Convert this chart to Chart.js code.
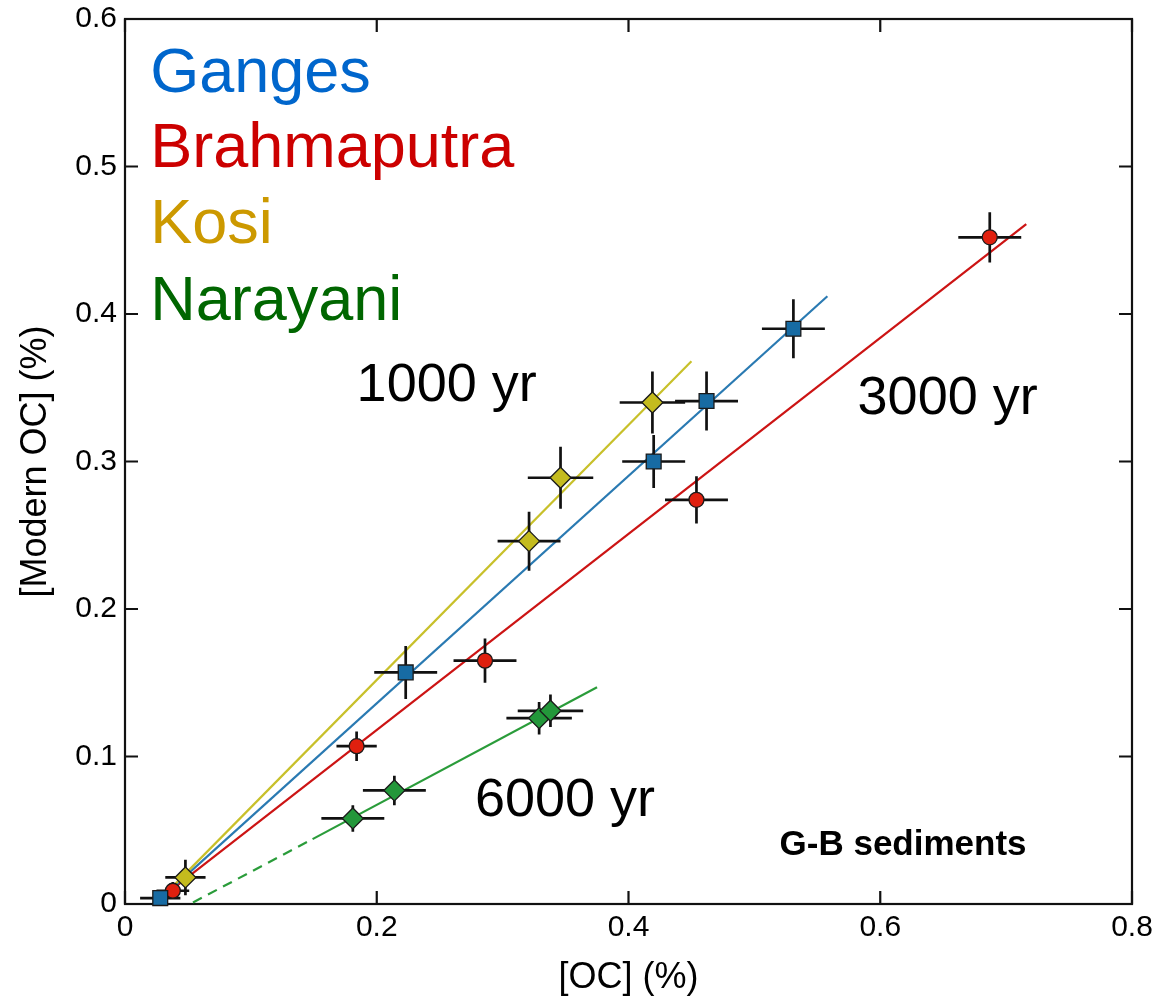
<!DOCTYPE html>
<html>
<head>
<meta charset="utf-8">
<script src="https://cdn.jsdelivr.net/npm/chart.js@4.4.0/dist/chart.umd.min.js"></script>
<style>
  html, body { margin: 0; padding: 0; background: #fff; }
</style>
</head>
<body>
<canvas id="ocChart" width="1173" height="1000"></canvas>
<script>
// Bulk OC vs modern (14C-derived) OC for Ganges-Brahmaputra river sediments

const gangesX = [0.028, 0.223, 0.420, 0.462, 0.531];
const gangesY = [0.004, 0.157, 0.300, 0.341, 0.390];
const gangesErrX = [0.016, 0.025, 0.025, 0.025, 0.025];
const gangesErrY = [0.003, 0.018, 0.018, 0.020, 0.020];

const brahmaX = [0.038, 0.184, 0.286, 0.454, 0.687];
const brahmaY = [0.009, 0.107, 0.165, 0.274, 0.452];
const brahmaErrX = [0.013, 0.016, 0.025, 0.025, 0.025];
const brahmaErrY = [0.006, 0.010, 0.015, 0.016, 0.017];

const kosiX = [0.048, 0.321, 0.346, 0.419];
const kosiY = [0.018, 0.246, 0.289, 0.340];
const kosiErrX = [0.016, 0.025, 0.026, 0.026];
const kosiErrY = [0.012, 0.020, 0.021, 0.021];

const narayaniX = [0.181, 0.214, 0.329, 0.338];
const narayaniY = [0.058, 0.077, 0.126, 0.131];
const narayaniErrX = [0.025, 0.025, 0.026, 0.026];
const narayaniErrY = [0.009, 0.010, 0.011, 0.011];

// age lines (endpoints)
const line1000X = [0.030, 0.450];
const line1000Y = [0.005, 0.368];
const gangesFitX = [0.030, 0.558];
const gangesFitY = [0.005, 0.412];
const line3000X = [0.030, 0.716];
const line3000Y = [0.005, 0.461];
const line6000DashX = [0.054, 0.149];
const line6000DashY = [0.001, 0.044];
const line6000X = [0.149, 0.375];
const line6000Y = [0.044, 0.147];

const xTicks = [0, 0.2, 0.4, 0.6, 0.8];
const yTicks = [0, 0.1, 0.2, 0.3, 0.4, 0.5, 0.6];

const FONT = "'Liberation Sans', Arial, Helvetica, sans-serif";

function pts(xs, ys) {
  return xs.map((x, i) => ({ x: x, y: ys[i] }));
}

function markerSet(label, xs, ys, ex, ey, style, radius, fill) {
  return {
    label: label,
    data: pts(xs, ys),
    errX: ex,
    errY: ey,
    pointStyle: style,
    pointRadius: radius,
    backgroundColor: fill,
    borderColor: '#1a1a1a',
    borderWidth: 1.3,
    showLine: false,
    clip: false,
    order: 0
  };
}

function lineSet(xs, ys, color, dash) {
  return {
    data: pts(xs, ys),
    showLine: true,
    borderColor: color,
    borderWidth: 2.2,
    borderDash: dash || [],
    pointRadius: 0,
    fill: false,
    order: 5
  };
}

// text written inside the plot, anchored in data units
const notes = [
  { text: 'Ganges', x: 0.020, y: 0.5505, color: '#0066cc', font: '63px ' + FONT },
  { text: 'Brahmaputra', x: 0.020, y: 0.4997, color: '#cc0000', font: '63px ' + FONT },
  { text: 'Kosi', x: 0.020, y: 0.448, color: '#cc9900', font: '63px ' + FONT },
  { text: 'Narayani', x: 0.020, y: 0.396, color: '#006600', font: '63px ' + FONT },
  { text: '1000 yr', x: 0.184, y: 0.341, color: '#000', font: '54px ' + FONT },
  { text: '3000 yr', x: 0.582, y: 0.332, color: '#000', font: '54px ' + FONT },
  { text: '6000 yr', x: 0.278, y: 0.060, color: '#000', font: '54px ' + FONT },
  { text: 'G-B sediments', x: 0.520, y: 0.0333, color: '#000', font: 'bold 35px ' + FONT }
];

// box around the plot with inward ticks on all four sides
const framePlugin = {
  id: 'frame',
  beforeDatasetsDraw(chart) {
    const { ctx, chartArea: a, scales } = chart;
    const len = 13;
    ctx.save();
    ctx.strokeStyle = '#111';
    ctx.lineWidth = 2.2;
    ctx.strokeRect(a.left, a.top, a.right - a.left, a.bottom - a.top);
    ctx.beginPath();
    xTicks.forEach((v) => {
      const px = scales.x.getPixelForValue(v);
      ctx.moveTo(px, a.bottom); ctx.lineTo(px, a.bottom - len);
      ctx.moveTo(px, a.top); ctx.lineTo(px, a.top + len);
    });
    yTicks.forEach((v) => {
      const py = scales.y.getPixelForValue(v);
      ctx.moveTo(a.left, py); ctx.lineTo(a.left + len, py);
      ctx.moveTo(a.right, py); ctx.lineTo(a.right - len, py);
    });
    ctx.stroke();
    ctx.restore();
  }
};

// error bars go under the markers but over the age lines
let barsDone = false;
const errorBarPlugin = {
  id: 'errorBars',
  beforeDatasetsDraw() { barsDone = false; },
  beforeDatasetDraw(chart, args) {
    const ds = chart.data.datasets[args.index];
    if (barsDone || !ds.errX) return;
    barsDone = true;
    const { ctx, scales } = chart;
    ctx.save();
    ctx.strokeStyle = '#111';
    ctx.lineWidth = 2.7;
    ctx.beginPath();
    chart.data.datasets.forEach((d) => {
      if (!d.errX) return;
      d.data.forEach((p, i) => {
        const px = scales.x.getPixelForValue(p.x);
        const py = scales.y.getPixelForValue(p.y);
        ctx.moveTo(scales.x.getPixelForValue(p.x - d.errX[i]), py);
        ctx.lineTo(scales.x.getPixelForValue(p.x + d.errX[i]), py);
        ctx.moveTo(px, scales.y.getPixelForValue(p.y - d.errY[i]));
        ctx.lineTo(px, scales.y.getPixelForValue(p.y + d.errY[i]));
      });
    });
    ctx.stroke();
    ctx.restore();
  }
};

const notesPlugin = {
  id: 'notes',
  afterDatasetsDraw(chart) {
    const { ctx, scales } = chart;
    ctx.save();
    ctx.textAlign = 'left';
    ctx.textBaseline = 'alphabetic';
    notes.forEach((n) => {
      ctx.font = n.font;
      ctx.fillStyle = n.color;
      ctx.fillText(n.text, scales.x.getPixelForValue(n.x), scales.y.getPixelForValue(n.y));
    });
    ctx.restore();
  }
};

const tickFmt = (v) => (v === 0 ? '0' : v.toFixed(1));

// keep the plot box fixed: no extra room for overhanging tick labels
function fixBox(size, key) {
  return (s) => {
    s[key] = size;
    s.paddingTop = 0;
    s.paddingBottom = 0;
    s.paddingLeft = 0;
    s.paddingRight = 0;
  };
}

new Chart(document.getElementById('ocChart'), {
  type: 'scatter',
  data: {
    datasets: [
      markerSet('Ganges', gangesX, gangesY, gangesErrX, gangesErrY, 'rect', 10.5, '#176ba3'),
      markerSet('Brahmaputra', brahmaX, brahmaY, brahmaErrX, brahmaErrY, 'circle', 7.5, '#e0200f'),
      markerSet('Kosi', kosiX, kosiY, kosiErrX, kosiErrY, 'rectRot', 10.5, '#c4bb1e'),
      markerSet('Narayani', narayaniX, narayaniY, narayaniErrX, narayaniErrY, 'rectRot', 10.5, '#23973a'),
      lineSet(line1000X, line1000Y, '#c8c02a'),
      lineSet(gangesFitX, gangesFitY, '#2a7ab2'),
      lineSet(line3000X, line3000Y, '#cc1414'),
      lineSet(line6000DashX, line6000DashY, '#2a9c3a', [10, 7]),
      lineSet(line6000X, line6000Y, '#2a9c3a')
    ]
  },
  options: {
    responsive: false,
    animation: false,
    devicePixelRatio: 1,
    layout: { padding: { top: 19, right: 41, left: 0, bottom: 0 } },
    plugins: {
      legend: { display: false },
      tooltip: { enabled: false }
    },
    scales: {
      x: {
        type: 'linear',
        min: 0,
        max: 0.8,
        afterFit: fixBox(96, 'height'),
        afterBuildTicks: (s) => { s.ticks = xTicks.map((v) => ({ value: v })); },
        grid: { display: false, drawTicks: false },
        border: { display: false },
        ticks: {
          callback: tickFmt,
          color: '#000',
          padding: 6,
          maxRotation: 0,
          font: { family: FONT, size: 30 }
        },
        title: {
          display: true,
          text: '[OC] (%)',
          color: '#000',
          padding: { top: 0, bottom: 0 },
          font: { family: FONT, size: 36 }
        }
      },
      y: {
        type: 'linear',
        min: 0,
        max: 0.6,
        afterFit: fixBox(125, 'width'),
        afterBuildTicks: (s) => { s.ticks = yTicks.map((v) => ({ value: v })); },
        grid: { display: false, drawTicks: false },
        border: { display: false },
        ticks: {
          callback: tickFmt,
          color: '#000',
          padding: 8,
          font: { family: FONT, size: 30 }
        },
        title: {
          display: true,
          text: '[Modern OC] (%)',
          color: '#000',
          padding: { top: 14, bottom: 0 },
          font: { family: FONT, size: 36 }
        }
      }
    }
  },
  plugins: [framePlugin, errorBarPlugin, notesPlugin]
});
</script>
</body>
</html>
